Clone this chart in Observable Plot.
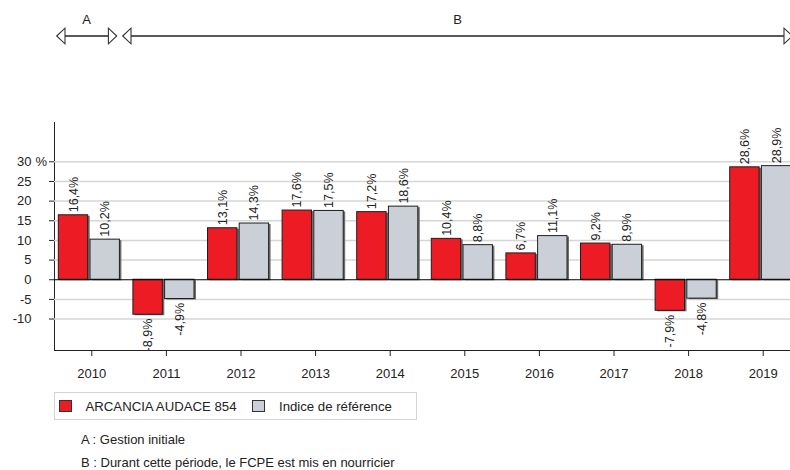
<!DOCTYPE html>
<html><head><meta charset="utf-8">
<script src="https://cdn.jsdelivr.net/npm/d3@7"></script>
<script src="https://cdn.jsdelivr.net/npm/@observablehq/plot@0.6"></script>
<style>
html,body{margin:0;padding:0;background:#fff;overflow:hidden;}
body{font-family:"Liberation Sans",Arial,sans-serif;color:#222;width:790px;height:470px;position:relative;}
#chart{position:absolute;left:0;top:0;width:790px;height:385px;overflow:hidden;}
#chart svg{max-width:none !important;display:block;}
.legend{position:absolute;left:54px;top:392px;width:363px;height:28px;box-sizing:border-box;border:1px solid #d3d3d3;display:flex;align-items:center;padding-left:4px;font-size:13.2px;}
.sw{width:13px;height:12px;box-sizing:border-box;border:1px solid #333;flex:none;}
.legend span.t{margin-left:13.5px;margin-right:16px;white-space:nowrap;}
.note{position:absolute;left:81px;font-size:13px;line-height:16px;white-space:nowrap;}
</style>
</head><body>
<div id="chart"></div>
<div class="legend" id="legend"></div>
<div id="notes"></div>
<script>
// ---- data ----
const years = ["2010","2011","2012","2013","2014","2015","2016","2017","2018","2019"];
const series = ["ARCANCIA AUDACE 854", "Indice de référence"];
const fundValues = [16.4, -8.9, 13.1, 17.6, 17.2, 10.4, 6.7, 9.2, -7.9, 28.6];
const indexValues = [10.2, -4.9, 14.3, 17.5, 18.6, 8.8, 11.1, 8.9, -4.8, 28.9];
const yTicks = [-10, -5, 0, 5, 10, 15, 20, 25, 30];
const yUnitTick = 30;
const periods = [
  {label: "A", from: "2010", to: "2010"},
  {label: "B", from: "2011", to: "2019"}
];
const notes = ["A : Gestion initiale", "B : Durant cette période, le FCPE est mis en nourricier"];

// ---- style ----
const colors = ["#ED1C24", "#CBD0D8"];
const W = 800, H = 385, ML = 54, MT = 122, MB = 35;
const bw = (W - ML) / years.length;
const barW = 29.4;
const barLeft = [4.3, 36];
const arrowInsets = [[2.7, 11.9], [-5.9, 7.7]];
const fmt = v => v.toFixed(1).replace(".", ",") + "%";

const valuesBySeries = [fundValues, indexValues];
const rows = years.flatMap((year, i) => series.map((name, s) => ({year, s, value: valuesBySeries[s][i]})));

const marks = [
  Plot.ruleY(yTicks.filter(t => t !== 0), {stroke: "#d6d6d6", strokeWidth: 1.5})
];
series.forEach((name, s) => {
  const d = rows.filter(r => r.s === s);
  const iL = barLeft[s], iR = bw - barLeft[s] - barW;
  marks.push(Plot.barY(d, {x: "year", y: "value", fill: "#6e6e6e", insetLeft: iL, insetRight: iR, dx: 2, dy: 1}));
  marks.push(Plot.barY(d, {x: "year", y: "value", fill: colors[s], stroke: "#1e1e1e", strokeWidth: 1, insetLeft: iL, insetRight: iR}));
});
marks.push(Plot.ruleY([0], {stroke: "#000", strokeWidth: 1.2}));
series.forEach((name, s) => {
  const d = rows.filter(r => r.s === s);
  const dx = barLeft[s] + barW / 2 - bw / 2;
  marks.push(Plot.text(d.filter(r => r.value >= 0), {x: "year", y: "value", text: r => fmt(r.value), rotate: -90, textAnchor: "start", dx, dy: -3, fontSize: 12.5, fill: "#222"}));
  marks.push(Plot.text(d.filter(r => r.value < 0), {x: "year", y: "value", text: r => fmt(r.value), rotate: -90, textAnchor: "end", dx, dy: 4, fontSize: 12.5, fill: "#222"}));
});
marks.push(Plot.text([yUnitTick], {y: d => d, text: () => "%", frameAnchor: "left", dx: -19, textAnchor: "start", fill: "#222"}));

const chart = Plot.plot({
  width: W, height: H,
  marginLeft: ML, marginRight: 0, marginTop: MT, marginBottom: MB,
  style: {fontFamily: "Liberation Sans, Arial, sans-serif", fontSize: "13px", color: "#222", background: "white", maxWidth: "none"},
  x: {domain: years, padding: 0, round: false, tickSize: 6, tickPadding: 12, line: true, label: null},
  y: {domain: [-18, 40], ticks: yTicks, tickSize: 5, tickPadding: 18, tickFormat: d => String(d), line: true, label: null},
  marks
});
document.getElementById("chart").appendChild(chart);

// ---- period arrows, placed with Plot's x scale ----
const xs = chart.scale("x");
const step = xs.bandwidth;
const svg = d3.select(chart);
const ay = 36, th = 8.3, tw = 7.8;
const g = svg.append("g");
periods.forEach((p, i) => {
  const x1 = xs.apply(p.from) + arrowInsets[i][0];
  const x2 = xs.apply(p.to) + step - arrowInsets[i][1];
  g.append("line").attr("x1", x1 + th).attr("x2", x2 - th).attr("y1", ay).attr("y2", ay)
    .attr("stroke", "#222").attr("stroke-width", 1.3);
  g.append("path").attr("d", `M${x1},${ay}L${x1 + th},${ay - tw}L${x1 + th},${ay + tw}Z`)
    .attr("fill", "#fff").attr("stroke", "#333").attr("stroke-width", 1.1);
  g.append("path").attr("d", `M${x2},${ay}L${x2 - th},${ay - tw}L${x2 - th},${ay + tw}Z`)
    .attr("fill", "#fff").attr("stroke", "#333").attr("stroke-width", 1.1);
  g.append("text").attr("x", (x1 + x2) / 2).attr("y", 24).attr("text-anchor", "middle")
    .attr("fill", "#222").attr("font-size", 13).text(p.label);
});

// ---- legend ----
const legend = d3.select("#legend");
series.forEach((name, s) => {
  legend.append("div").attr("class", "sw").style("background", colors[s]);
  legend.append("span").attr("class", "t").text(name);
});
// ---- notes ----
const notesDiv = d3.select("#notes");
notes.forEach((t, i) => {
  notesDiv.append("div").attr("class", "note").style("top", (432 + i * 23) + "px").text(t);
});
</script>
</body></html>
